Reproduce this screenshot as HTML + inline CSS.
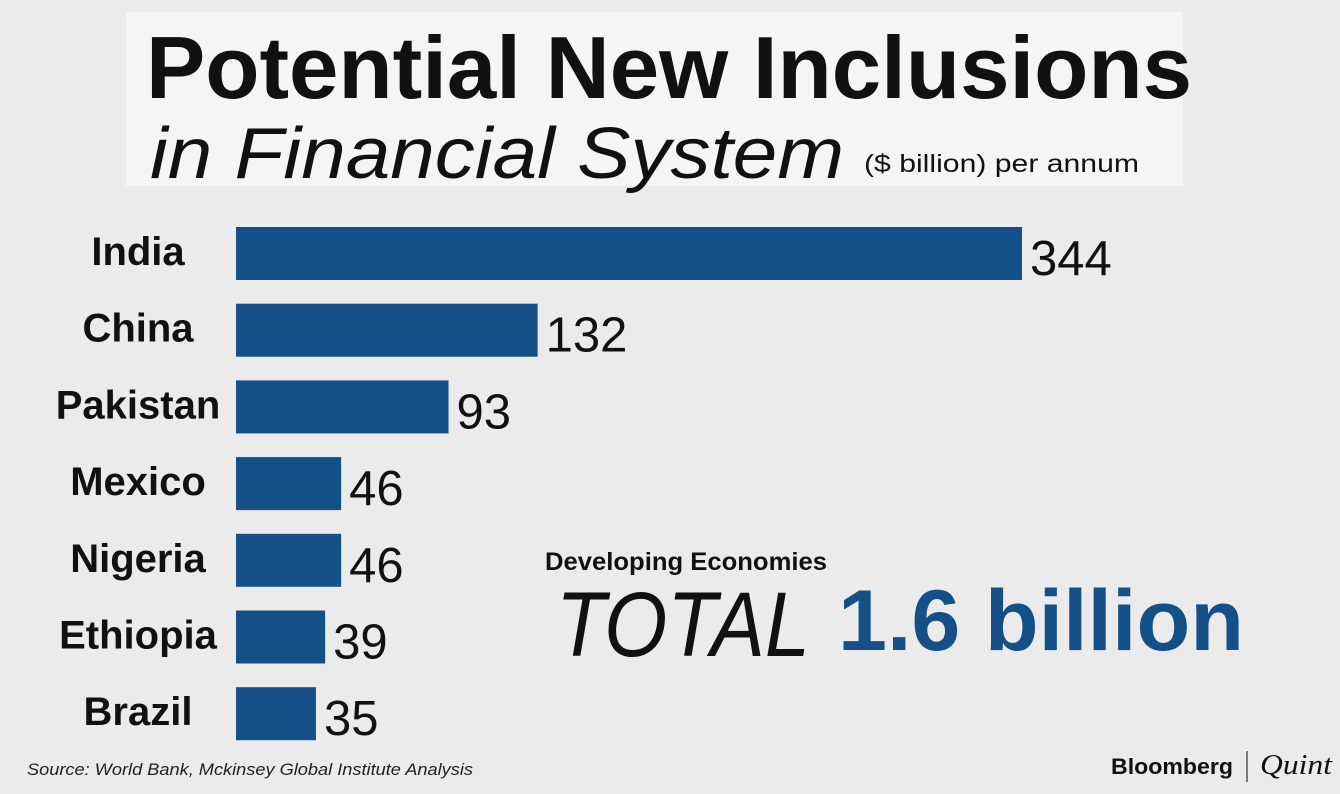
<!DOCTYPE html>
<html><head><meta charset="utf-8"><style>
html,body{margin:0;padding:0;background:#ebebeb;}
svg{display:block;font-family:"Liberation Sans",sans-serif;}
</style></head><body>
<svg width="1340" height="794" viewBox="0 0 1340 794">
<rect x="0" y="0" width="1340" height="794" fill="#ebebeb"/>
<rect x="126" y="12" width="1057" height="174" fill="#f5f5f5"/>
<text x="146" y="98" font-size="88" font-weight="bold" fill="#111" textLength="1046" lengthAdjust="spacingAndGlyphs">Potential New Inclusions</text>
<text x="150" y="178" font-size="72" font-style="italic" fill="#111" textLength="694" lengthAdjust="spacingAndGlyphs">in Financial System</text>
<text x="864" y="172" font-size="25" fill="#111" textLength="275" lengthAdjust="spacingAndGlyphs">($ billion) per annum</text>
<g id="bars"></g>
<text x="545" y="570" font-size="25" font-weight="bold" fill="#111" textLength="282" lengthAdjust="spacingAndGlyphs">Developing Economies</text>
<text x="556" y="656" font-size="92" font-style="italic" fill="#111" textLength="254" lengthAdjust="spacingAndGlyphs">TOTAL</text>
<text x="838" y="650" font-size="86" font-weight="bold" fill="#154f87" textLength="406" lengthAdjust="spacingAndGlyphs">1.6 billion</text>
<text x="27" y="775" font-size="17" font-style="italic" fill="#222" textLength="446" lengthAdjust="spacingAndGlyphs">Source: World Bank, Mckinsey Global Institute Analysis</text>
<text x="1111" y="774" font-size="22" font-weight="bold" fill="#111" textLength="122" lengthAdjust="spacingAndGlyphs">Bloomberg</text>
<line x1="1247" y1="751" x2="1247" y2="782" stroke="#555" stroke-width="1.5"/>
<text x="1260" y="774" font-size="28" font-style="italic" fill="#111" font-family="Liberation Serif,serif" textLength="72" lengthAdjust="spacingAndGlyphs">Quint</text>
</svg>
<script>
const categories = ["India","China","Pakistan","Mexico","Nigeria","Ethiopia","Brazil"];
const values = [344,132,93,46,46,39,35];
const valueLabels = ["344","132","93","46","46","39","35"];
const NS="http://www.w3.org/2000/svg";
const g=document.getElementById('bars');
const x0=236, scale=(1022-236)/344;
const xAxis=v=>x0+v*scale;
const yAxis=i=>227+i*76.7;
categories.forEach((c,i)=>{
  const y=yAxis(i);
  const r=document.createElementNS(NS,'rect');
  r.setAttribute('x',x0);r.setAttribute('y',y);
  r.setAttribute('width',xAxis(values[i])-x0);r.setAttribute('height',53);
  r.setAttribute('fill','#154f87');
  
  
  g.appendChild(r);
  const t=document.createElementNS(NS,'text');
  t.setAttribute('x',138);t.setAttribute('y',y+38);
  t.setAttribute('text-anchor','middle');t.setAttribute('font-size','40');
  t.setAttribute('font-weight','bold');t.setAttribute('fill','#111');
  t.textContent=c;
  
  
  g.appendChild(t);
  const v=document.createElementNS(NS,'text');
  v.setAttribute('x',xAxis(values[i])+8);v.setAttribute('y',y+48);
  v.setAttribute('font-size','49');v.setAttribute('fill','#111');
  v.textContent=valueLabels[i];
  
  
  g.appendChild(v);
});
</script>
</body></html>
